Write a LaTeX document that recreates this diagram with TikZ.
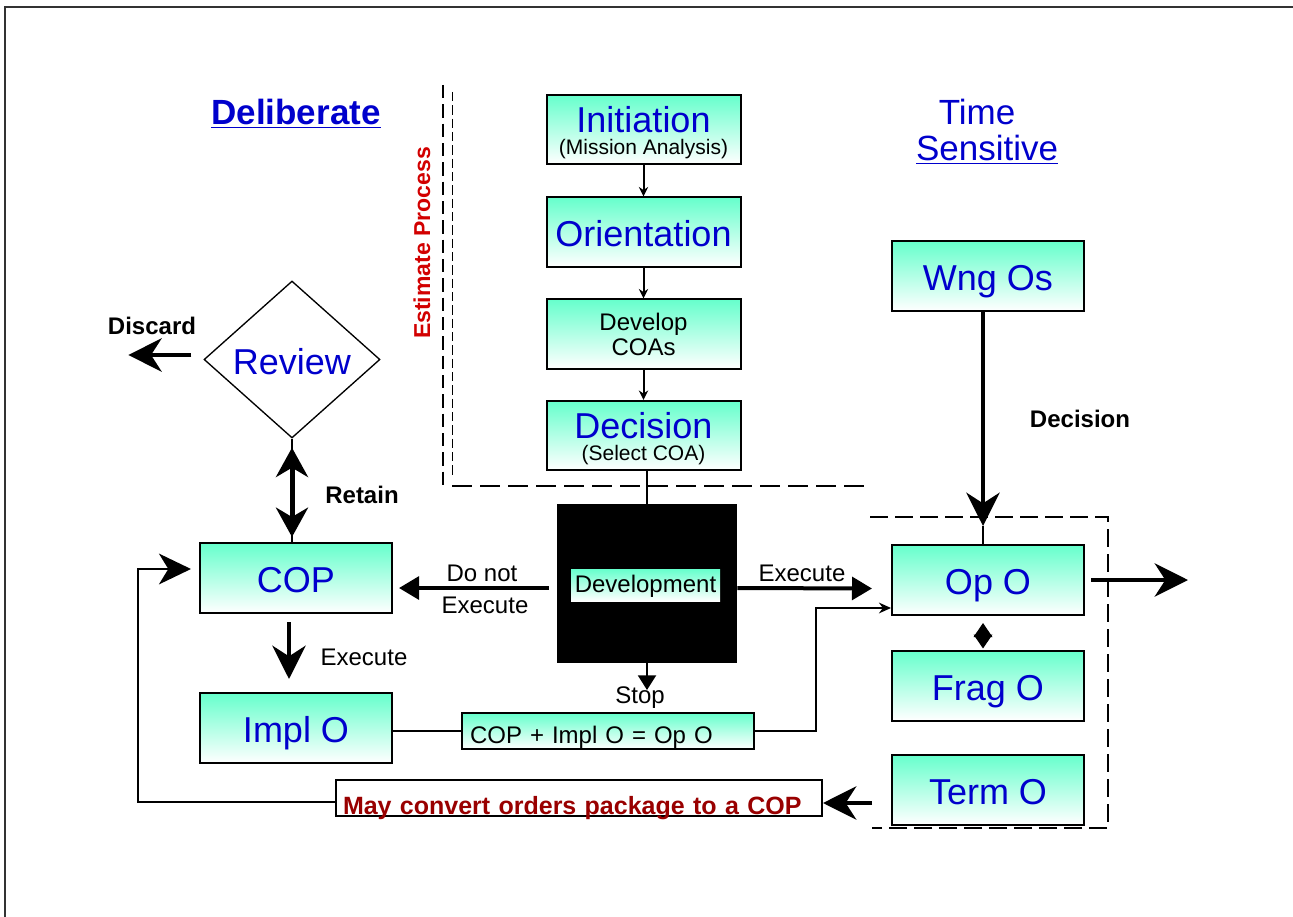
\documentclass[tikz,border=0pt]{standalone}
\usepackage{fontspec}
\setmainfont{Liberation Sans}
\usetikzlibrary{arrows.meta,shapes.geometric,calc}

\definecolor{aqua}{RGB}{102,255,204}
\definecolor{tblue}{RGB}{0,0,204}
\definecolor{estred}{RGB}{210,0,0}
\definecolor{darkred}{RGB}{153,0,0}

\begin{document}
\begin{tikzpicture}[x=0.75pt,y=-0.75pt,
  shadebox/.style={draw, line width=1.5pt, inner sep=0pt, top color=aqua, bottom color=white},
  box/.style={shadebox, minimum width=144pt, minimum height=52.5pt, text=tblue,
    font=\fontsize{27}{27}\selectfont, text height=22pt, text depth=0pt},
  estbox/.style={shadebox, minimum width=145.5pt, minimum height=52pt, align=center, text depth=0pt},
  lbl/.style={font=\fontsize{18}{18}\selectfont, inner sep=0pt},
  blbl/.style={font=\bfseries\fontsize{18}{18}\selectfont, inner sep=0pt},
  thinarr/.style={line width=1.5pt, -{Stealth[length=7pt,width=7pt]}},
  bigarr/.style={line width=3pt, -{Stealth[length=25pt,width=25pt,inset=8pt]}},
  devarr/.style={line width=3pt, -{Triangle[length=15pt,width=17pt]}},
  dashbold/.style={line width=1.5pt, dash pattern=on 10pt off 4.5pt},
]
\useasboundingbox (0,0) rectangle (1293,917);

% outer frame (top and left edges)
\draw[line width=1.5pt, black!80] (5,917) -- (5,7) -- (1293,7);

% headings
\node[font=\bfseries\fontsize{26.25}{26.25}\selectfont, text=tblue, anchor=base] (delib) at (296,125) {\underline{Deliberate}};
\node[font=\fontsize{26.25}{26.25}\selectfont, text=tblue, anchor=base] (time) at (977,125) {Time};
\node[font=\fontsize{26.25}{26.25}\selectfont, text=tblue, anchor=base] (sens) at (987,161) {\underline{Sensitive}};
\node[rotate=90, font=\bfseries\fontsize{17.25}{17.25}\selectfont, text=estred, inner sep=0pt] (est) at (422,243) {Estimate Process};

% estimate process frame
\draw[dashbold] (443,85) -- (443,487);
\draw[line width=0.75pt, dash pattern=on 7pt off 3pt] (452,92) -- (452,478);
\draw[line width=1.5pt, dash pattern=on 15pt off 6pt] (452,486) -- (870,486);

% time sensitive frame
\draw[line width=1.5pt, dash pattern=on 13.5pt off 5.25pt] (870,517) -- (1108,517) -- (1108,828) -- (872,828);

% estimate process steps
\node[estbox, font=\fontsize{27}{16.5}\selectfont, text=tblue, text height=38pt] (init) at (643.5,129.5)
  {Initiation\\\textcolor{black}{\fontsize{15.75}{16}\selectfont (Mission Analysis)}};
\node[estbox, font=\fontsize{27}{27}\selectfont, text=tblue, text height=22pt] (orient) at (643.5,232) {Orientation};
\node[estbox, font=\fontsize{18}{18.75}\selectfont] (coas) at (643.5,334) {Develop\\COAs};
\node[estbox, font=\fontsize{27}{16.5}\selectfont, text=tblue, text height=38pt] (dec) at (643.5,435.5)
  {Decision\\\textcolor{black}{\fontsize{15.75}{16}\selectfont (Select COA)}};

% development block
\node[fill=black, minimum width=135pt, minimum height=119.25pt, inner sep=0pt] (dev) at (647,583.5) {};
\node[shadebox, draw=none, minimum width=111.75pt, minimum height=24pt,
  font=\fontsize{18}{18}\selectfont, text height=13.5pt, text depth=3pt] (devlbl) at (645.5,585) {Development};

% order boxes
\node[box] (wng) at (988,276) {Wng Os};
\node[box] (op) at (988,580) {Op O};
\node[box] (frag) at (988,685.5) {Frag O};
\node[box] (term) at (988,789.5) {Term O};
\node[box] (cop) at (296,578) {COP};
\node[box] (impl) at (296,728) {Impl O};

\node[shadebox, minimum height=27pt, inner xsep=6pt, text width=207pt, align=left,
  font=\fontsize{18}{18}\selectfont, text height=18pt, text depth=0pt] (sum) at (608,731) {COP + Impl O = Op O};

\node[draw, fill=white, line width=1.5pt, minimum height=27pt, inner xsep=5.25pt, inner ysep=0pt,
  text width=354pt, align=left, font=\bfseries\fontsize{18.75}{18.75}\selectfont, text=darkred,
  text height=24pt, text depth=0pt] (conv) at (579,798) {May convert orders package to a COP};

\node[diamond, draw, line width=1pt, minimum width=132pt, minimum height=117.75pt, inner sep=0pt,
  text=tblue, font=\fontsize{27}{27}\selectfont, text height=22pt, text depth=0pt] (rev) at (292,359.5) {Review};

% text labels
\node[blbl] (discard) at (152,326) {Discard};
\node[blbl] (retain) at (362,495) {Retain};
\node[blbl] (decl) at (1080,419) {Decision};
\node[lbl] (donot) at (482,573) {Do not};
\node[lbl] (exnot) at (485,605) {Execute};
\node[lbl] (exop) at (802,573) {Execute};
\node[lbl] (eximpl) at (364,657) {Execute};
\node[lbl] (stop) at (640,698) {Stop};

% estimate chain
\draw[thinarr] (init) -- (orient);
\draw[thinarr] (orient) -- (coas);
\draw[thinarr] (coas) -- (dec);
\draw[line width=1.5pt] (dev.north |- dec.south) -- (dev.north);

% development outcomes
\coordinate (stoptip) at (647,690);
\draw[line width=1.5pt, -{Triangle[length=11pt,width=13.5pt]}] (dev.south) -- (stoptip);
\draw[devarr] ($(dev.west)+(-8,4.5)$) -- ($(cop.east)+(6,10)$);
\draw[devarr] ($(dev.east)+(0,4.5)$) -- ($(op.west)+(-19,8.5)$);

% time sensitive flow
\draw[bigarr] ($(wng.south)+(-5,0)$) -- ($(op.north)+(-5,-18)$);
\draw[line width=1.5pt] ($(op.north)+(-5,-18)$) -- ($(op.north)+(-5,0)$);
\draw[line width=1pt, {Triangle[length=10.5pt,width=14pt]}-{Triangle[length=10.5pt,width=14pt]}]
  ($(op.south)+(-5,7)$) -- ($(frag.north)+(-5,-1)$);
\draw[bigarr] ($(op.east)+(6,0)$) -- ($(op.east)+(103,0)$);
\draw[bigarr] ($(term.west)+(-19,13.5)$) -- ($(conv.east)+(0,5)$);

% deliberate flow
\draw[line width=1.5pt] (rev.south) -- (rev.south |- cop.north);
\draw[line width=3.75pt, {Stealth[length=22pt,width=24pt,inset=7pt]}-{Stealth[length=22pt,width=24pt,inset=7pt]}]
  ($(rev.south)+(0,9)$) -- ($(rev.south |- cop.north)+(0,-5)$);
\draw[bigarr] ($(rev.west)+(-12,-4.5)$) -- ($(rev.west)+(-75,-4.5)$);
\draw[bigarr] ($(cop.south)+(-7,8)$) -- ($(impl.north)+(-7,-13)$);
\draw[line width=1.5pt] (impl.east |- sum.west) -- (sum.west);

\coordinate (bend) at (816,608);
\draw[line width=1.5pt, -{Stealth[length=9pt,width=8pt]}] (sum.east) -| (bend) -- (bend -| op.west);

% conversion back to a COP
\coordinate (fbl) at (138,802);
\coordinate (fbt) at (138,569);
\draw[line width=2pt, -{Stealth[length=24pt,width=23pt,inset=7pt]}]
  ($(conv.west)+(0,4)$) -- (fbl) -- (fbt) -- ($(cop.west)+(-8,-9)$);
\end{tikzpicture}
\end{document}
